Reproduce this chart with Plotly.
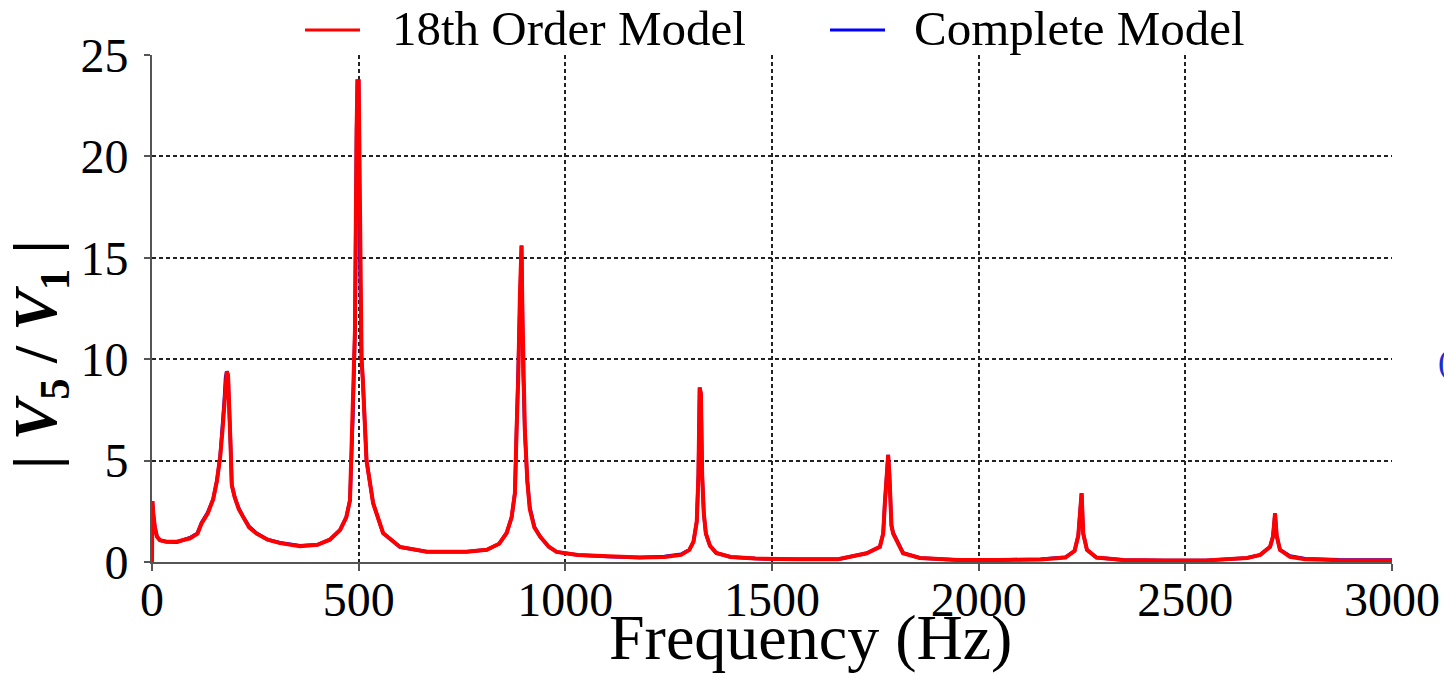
import plotly.graph_objects as go

# Frequency samples (Hz)
freq = [0, 1, 3, 7, 12, 19, 35, 60, 92, 110,
        120, 135, 148, 157, 165, 171, 175, 178, 181, 184,
        187, 190, 193, 200, 210, 220, 235, 253, 280, 310,
        358, 400, 430, 455, 470, 479, 486, 491, 495, 497,
        500, 503, 507, 510, 519, 535, 559, 600, 665, 761,
        810, 840, 858, 870, 878, 882, 886, 890, 894, 896,
        898, 902, 908, 914, 925, 939, 960, 979, 1030, 1100,
        1180, 1240, 1280, 1300, 1310, 1318, 1322, 1325, 1328, 1331,
        1335, 1340, 1350, 1365, 1400, 1460, 1560, 1660, 1729, 1761,
        1769, 1773, 1778, 1781, 1784, 1789, 1793, 1817, 1858, 1950,
        2050, 2150, 2210, 2232, 2241, 2246, 2249, 2253, 2262, 2285,
        2350, 2450, 2550, 2649, 2681, 2705, 2712, 2717, 2721, 2729,
        2753, 2790, 2870, 3000]

# |V5/V1| of the 18th order model
order18 = [0.0, 3.0, 2.4, 1.7, 1.25, 1.08, 1.0, 1.0, 1.17, 1.4,
           1.9, 2.4, 3.1, 4.0, 5.2, 6.6, 8.0, 9.1, 9.4, 9.2,
           7.8, 5.8, 3.8, 3.2, 2.6, 2.2, 1.7, 1.4, 1.1, 0.93,
           0.78, 0.85, 1.1, 1.58, 2.2, 3.05, 7.2, 11.4, 21.3, 23.7,
           23.7, 14.9, 10.0, 9.0, 5.0, 2.9, 1.43, 0.74, 0.51, 0.5,
           0.6, 0.9, 1.43, 2.2, 3.4, 6.5, 9.0, 13.1, 15.6, 12.5,
           9.3, 6.5, 4.0, 2.6, 1.7, 1.25, 0.75, 0.5, 0.35, 0.27,
           0.22, 0.25, 0.35, 0.6, 1.0, 2.0, 4.3, 8.6, 8.3, 4.3,
           2.4, 1.4, 0.8, 0.45, 0.25, 0.17, 0.13, 0.14, 0.43, 0.75,
           1.4, 2.9, 4.3, 5.28, 4.3, 1.8, 1.4, 0.43, 0.2, 0.1,
           0.1, 0.12, 0.22, 0.55, 1.3, 2.4, 3.4, 1.4, 0.6, 0.22,
           0.1, 0.08, 0.08, 0.2, 0.35, 0.75, 1.25, 2.4, 1.3, 0.6,
           0.26, 0.14, 0.09, 0.07]

# |V5/V1| of the complete model
complete = [0.0, 3.0, 2.4, 1.7, 1.25, 1.08, 1.0, 0.98, 1.2, 1.42,
            1.95, 2.45, 3.1, 4.0, 5.2, 6.6, 8.0, 9.1, 9.4, 9.2,
            7.8, 5.8, 3.8, 3.2, 2.65, 2.25, 1.75, 1.42, 1.1, 0.95,
            0.8, 0.85, 1.1, 1.58, 2.2, 3.05, 7.2, 11.4, 21.3, 23.7,
            23.7, 14.9, 10.0, 9.0, 5.0, 2.9, 1.43, 0.74, 0.51, 0.5,
            0.6, 0.9, 1.43, 2.2, 3.4, 6.5, 9.0, 13.1, 15.6, 12.5,
            9.3, 6.5, 4.0, 2.7, 1.75, 1.25, 0.75, 0.5, 0.35, 0.27,
            0.22, 0.27, 0.38, 0.6, 1.0, 2.0, 4.3, 8.6, 8.3, 4.3,
            2.4, 1.4, 0.8, 0.45, 0.25, 0.17, 0.13, 0.14, 0.43, 0.75,
            1.4, 2.9, 4.3, 5.28, 4.3, 1.8, 1.45, 0.45, 0.2, 0.1,
            0.1, 0.14, 0.24, 0.55, 1.3, 2.4, 3.4, 1.4, 0.6, 0.22,
            0.1, 0.08, 0.08, 0.2, 0.35, 0.75, 1.25, 2.4, 1.3, 0.6,
            0.3, 0.16, 0.11, 0.1]

x_ticks = [0, 500, 1000, 1500, 2000, 2500, 3000]
y_ticks = [0, 5, 10, 15, 20, 25]
series_names = ["18th Order Model", "Complete Model"]

SERIF = "Liberation Serif, Times New Roman, serif"

fig = go.Figure()
fig.add_trace(go.Scatter(x=freq, y=complete, mode="lines", name=series_names[1],
                         line=dict(color="#0000ff", width=3.5), showlegend=False))
fig.add_trace(go.Scatter(x=freq, y=order18, mode="lines", name=series_names[0],
                         line=dict(color="#ff0000", width=4), showlegend=False))

axis_common = dict(
    showline=True, linecolor="#555555", linewidth=2,
    ticks="outside", tickcolor="#555555", tickwidth=2,
    showgrid=True, gridcolor="#222222", gridwidth=1.6, griddash="4px,3px",
    zeroline=False, automargin=False,
    tickfont=dict(family=SERIF, size=48, color="black"),
)

PL, PR, PT, PB = 152, 1392, 55, 562
PW, PH = PR - PL, PB - PT

fig.update_layout(
    width=1444, height=674,
    margin=dict(l=PL, r=1444 - PR, t=PT, b=674 - PB),
    paper_bgcolor="white", plot_bgcolor="white",
    showlegend=False,
    xaxis=dict(range=[0, 3000], tickvals=x_ticks, ticklen=7, ticklabelstandoff=-13, **axis_common),
    yaxis=dict(range=[0, 25], tickvals=y_ticks, ticklen=6, ticklabelstandoff=6, **axis_common),
)

# Manual legend (line samples + labels) at the top
legend_items = [(series_names[0], "#ff0000", 305, 360, 390),
                (series_names[1], "#0000ff", 830, 885, 912)]
for name, color, x0, x1, xt in legend_items:
    fig.add_shape(type="line", xref="paper", yref="paper",
                  x0=(x0 - PL) / PW, x1=(x1 - PL) / PW,
                  y0=(PB - 30) / PH, y1=(PB - 30) / PH,
                  line=dict(color=color, width=3))
    fig.add_annotation(text=name, xref="paper", yref="paper",
                       x=(xt - PL) / PW, y=(PB - 29) / PH,
                       xanchor="left", yanchor="middle", showarrow=False,
                       font=dict(family=SERIF, size=49, color="black"))

# Axis titles
fig.add_annotation(text="Frequency (Hz)", xref="paper", yref="paper",
                   x=(810 - PL) / PW, y=(PB - 637) / PH,
                   xanchor="center", yanchor="middle", showarrow=False,
                   font=dict(family=SERIF, size=64, color="black"))
fig.add_annotation(text="<b>| <i>V</i><sub>5</sub> / <i>V</i><sub>1</sub> |</b>",
                   xref="paper", yref="paper",
                   x=(40 - PL) / PW, y=(PB - 355) / PH,
                   xanchor="center", yanchor="middle", showarrow=False,
                   textangle=-90,
                   font=dict(family=SERIF, size=61, color="black"))

# small blue fragment at right edge
fig.add_annotation(text="(", xref="paper", yref="paper",
                   x=(1436 - PL) / PW, y=(PB - 362) / PH,
                   xanchor="left", yanchor="middle", showarrow=False,
                   font=dict(family=SERIF, size=34, color="#1a2fd0"))

fig.write_html("out.html")
